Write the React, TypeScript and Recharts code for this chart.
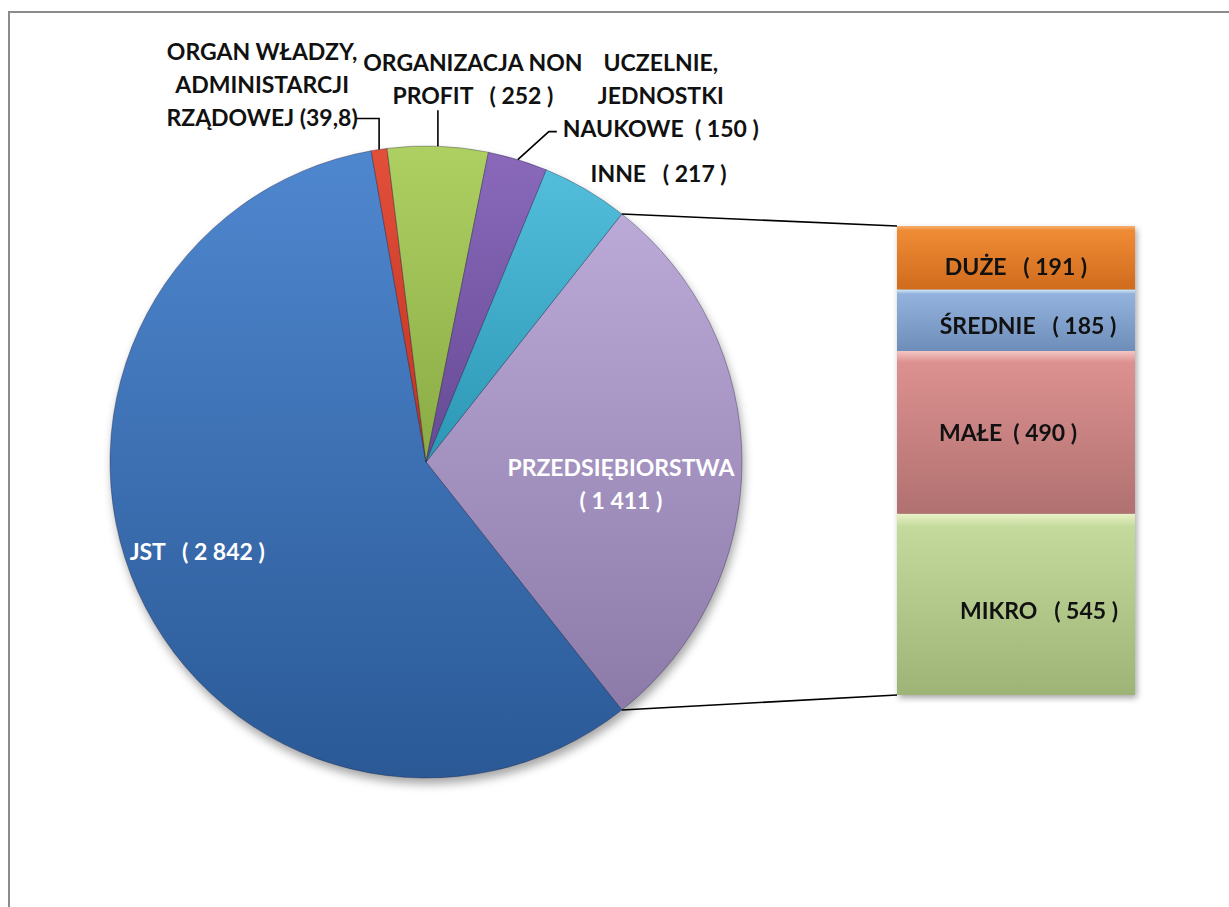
import { Bar, BarChart, Cell, LabelList, Pie, PieChart, XAxis, YAxis } from "recharts";

// --- data ---
const sliceNames = [
  "PRZEDSIĘBIORSTWA",
  "JST",
  "ORGAN WŁADZY, ADMINISTARCJI RZĄDOWEJ",
  "ORGANIZACJA NON PROFIT",
  "UCZELNIE, JEDNOSTKI NAUKOWE",
  "INNE",
];
const sliceValues = [1411, 2842, 39.8, 252, 150, 217];
const sliceLabels = [
  ["PRZEDSIĘBIORSTWA", "( 1 411 )"],
  ["JST   ( 2 842 )"],
  ["ORGAN WŁADZY,", "ADMINISTARCJI", "RZĄDOWEJ (39,8)"],
  ["ORGANIZACJA NON", "PROFIT   ( 252 )"],
  ["UCZELNIE,", "JEDNOSTKI", "NAUKOWE  ( 150 )"],
  ["INNE   ( 217 )"],
];

// breakdown of PRZEDSIĘBIORSTWA (bottom to top)
const sizeNames = ["MIKRO", "MAŁE", "ŚREDNIE", "DUŻE"];
const sizeValues = [545, 490, 185, 191];
const sizeLabels = ["MIKRO   ( 545 )", "MAŁE  ( 490 )", "ŚREDNIE   ( 185 )", "DUŻE   ( 191 )"];

// --- styling / layout ---
const FONT = "Lato, 'Noto Sans', sans-serif";
const FONT_SIZE = 23;
const CX = 426;
const CY = 462;
const R = 316;
const BAR_X = 897;
const BAR_Y = 226;
const BAR_W = 238;
const BAR_H = 469;

const sliceColors = [
  ["#bba9d8", "#8c7ba8"],
  ["#4f87cf", "#2a5996"],
  ["#e2503a", "#c23222"],
  ["#aed062", "#8aab45"],
  ["#8a69bb", "#664a95"],
  ["#52bedb", "#2c97b4"],
];
const sizeColors = [
  ["#e9f2c8", "#c4da9c", "#9db476"],
  ["#f3c6c4", "#dc9190", "#b07170"],
  ["#d2ecfa", "#93b3de", "#6e8eb9"],
  ["#f7b070", "#f08b35", "#cf6c1d"],
];
const sizeLabelOffset = [
  { dx: 23, dy: 6 },
  { dx: -8, dy: 0 },
  { dx: 12, dy: 5 },
  { dx: 0, dy: 8 },
];

// label placement relative to the slice's outer-edge point
const labelLayout = [
  { dx: -121, dy: 5, anchor: "middle", fill: "#ffffff", leader: [] as number[][] },
  { dx: -8, dy: -40, anchor: "start", fill: "#ffffff", leader: [] as number[][] },
  { dx: -117, dy: -98, anchor: "middle", fill: "#111111", leader: [[0, 0], [0, -31], [-24, -31]] },
  { dx: 35, dy: -84, anchor: "middle", fill: "#111111", leader: [[0, 0], [0, -36]] },
  { dx: 143, dy: -98, anchor: "middle", fill: "#111111", leader: [[0, 0], [31, -28], [39, -28]] },
  { dx: 5, dy: -16, anchor: "start", fill: "#111111", leader: [] as number[][] },
];
const LINE_H = 33;

const total = sliceValues.reduce((a, b) => a + b, 0);
const START = (sliceValues[0] / total) * 180;
const RAD = Math.PI / 180;

const pieData = sliceNames.map((name, i) => ({ name, value: sliceValues[i] }));
const barRow: Record<string, number | string> = { name: sliceNames[0] };
sizeNames.forEach((n, i) => (barRow[n] = sizeValues[i]));

const polar = (angle: number) => ({
  x: CX + R * Math.cos(-angle * RAD),
  y: CY + R * Math.sin(-angle * RAD),
});

const textStyle = { whiteSpace: "pre", fontFamily: FONT, fontWeight: 700, fontSize: FONT_SIZE } as const;

function SliceLabel(props: any) {
  const { cx, cy, midAngle, outerRadius, index } = props;
  const ex = cx + outerRadius * Math.cos(-midAngle * RAD);
  const ey = cy + outerRadius * Math.sin(-midAngle * RAD);
  const lay = labelLayout[index];
  const lines = sliceLabels[index];
  return (
    <g>
      {lay.leader.length > 0 && (
        <polyline
          points={lay.leader.map(([x, y]) => `${ex + x},${ey + y}`).join(" ")}
          fill="none"
          stroke="#000"
          strokeWidth={1.6}
        />
      )}
      {lines.map((t, k) => (
        <text
          key={k}
          x={ex + lay.dx}
          y={ey + lay.dy + k * LINE_H}
          textAnchor={lay.anchor as any}
          dominantBaseline="central"
          fill={lay.fill}
          style={textStyle}
        >
          {t}
        </text>
      ))}
    </g>
  );
}

function sizeLabel(i: number) {
  return (p: any) => {
    const { x, y, width, height } = p;
    return (
      <text
        x={x + width / 2 + sizeLabelOffset[i].dx}
        y={y + height / 2 + sizeLabelOffset[i].dy}
        textAnchor="middle"
        dominantBaseline="central"
        fill="#111"
        style={textStyle}
      >
        {sizeLabels[i]}
      </text>
    );
  };
}

export default function App() {
  const top = polar(START);
  const bottom = polar(-START);
  return (
    <div
      style={{
        position: "absolute",
        left: 0,
        top: 0,
        width: 1229,
        height: 907,
        overflow: "hidden",
        background: "#fff",
      }}
    >
      {/* chart frame */}
      <div
        style={{
          position: "absolute",
          left: 8,
          top: 11,
          width: 1240,
          height: 920,
          borderTop: "2px solid #8c8c8c",
          borderLeft: "2px solid #8c8c8c",
        }}
      />
      <div style={{ position: "absolute", left: 0, top: 0 }}>
        <PieChart width={1229} height={907} margin={{ top: 0, right: 0, bottom: 0, left: 0 }}>
          <defs>
            <filter id="pieShadow" x="-20%" y="-20%" width="140%" height="140%">
              <feGaussianBlur stdDeviation="5" />
            </filter>
            {sliceColors.map((c, i) => (
              <linearGradient key={i} id={`slice${i}`} x1="0" y1="0" x2="0" y2="1">
                <stop offset="0%" stopColor={c[0]} />
                <stop offset="100%" stopColor={c[1]} />
              </linearGradient>
            ))}
          </defs>
          <Pie
            data={[{ name: "shadow", value: total }]}
            dataKey="value"
            cx={CX + 2}
            cy={CY + 6}
            outerRadius={R}
            stroke="none"
            isAnimationActive={false}
          >
            <Cell fill="rgba(0,0,0,0.35)" filter="url(#pieShadow)" />
          </Pie>
          <Pie
            data={pieData}
            dataKey="value"
            nameKey="name"
            cx={CX}
            cy={CY}
            outerRadius={R}
            startAngle={START}
            endAngle={START - 360}
            stroke="rgba(30,30,60,0.35)"
            strokeWidth={1}
            label={SliceLabel}
            labelLine={false}
            isAnimationActive={false}
          >
            {pieData.map((d, i) => (
              <Cell key={d.name} fill={`url(#slice${i})`} />
            ))}
          </Pie>
        </PieChart>
      </div>
      {/* connectors between the split slice and the bar */}
      <svg
        width={1229}
        height={907}
        style={{ position: "absolute", left: 0, top: 0, pointerEvents: "none" }}
      >
        <line x1={top.x} y1={top.y} x2={BAR_X} y2={BAR_Y} stroke="#000" strokeWidth={1.6} />
        <line x1={bottom.x} y1={bottom.y} x2={BAR_X} y2={BAR_Y + BAR_H} stroke="#000" strokeWidth={1.6} />
      </svg>
      <div
        style={{
          position: "absolute",
          left: BAR_X,
          top: BAR_Y,
          filter: "drop-shadow(2px 3px 3px rgba(0,0,0,0.35))",
        }}
      >
        <BarChart
          width={BAR_W}
          height={BAR_H}
          data={[barRow]}
          margin={{ top: 0, right: 0, bottom: 0, left: 0 }}
          barCategoryGap={0}
        >
          <defs>
            {sizeColors.map((c, i) => (
              <linearGradient key={i} id={`size${i}`} x1="0" y1="0" x2="0" y2="1">
                <stop offset="0%" stopColor={c[0]} />
                <stop offset="7%" stopColor={c[1]} />
                <stop offset="100%" stopColor={c[2]} />
              </linearGradient>
            ))}
          </defs>
          <XAxis dataKey="name" hide />
          <YAxis type="number" domain={[0, sliceValues[0]]} hide />
          {sizeNames.map((n, i) => (
            <Bar key={n} dataKey={n} stackId="s" fill={`url(#size${i})`} isAnimationActive={false}>
              <LabelList dataKey={n} content={sizeLabel(i)} />
            </Bar>
          ))}
        </BarChart>
      </div>
    </div>
  );
}
